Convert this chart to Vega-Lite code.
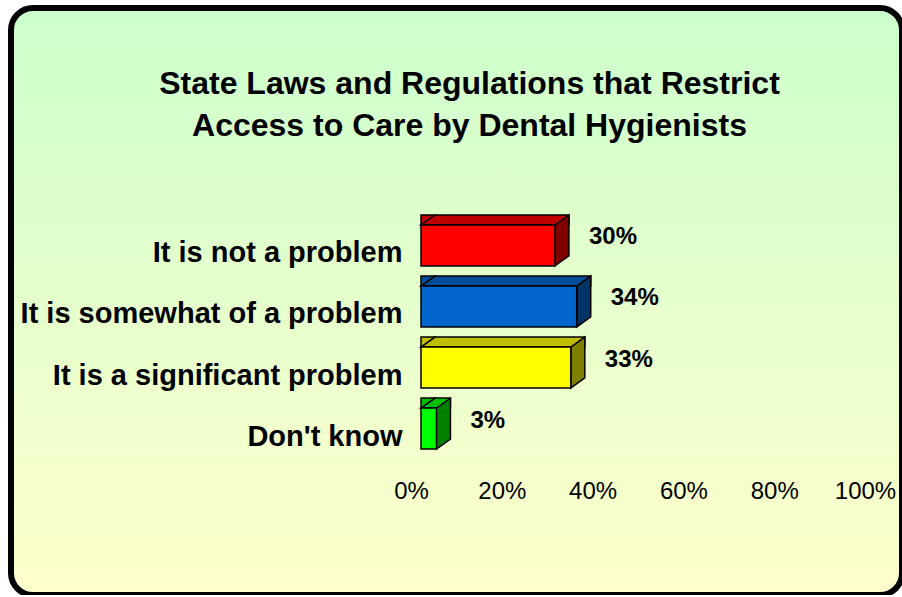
{
  "$schema": "https://vega.github.io/schema/vega-lite/v6.json",
  "width": 891,
  "height": 587,
  "autosize": {"type": "none"},
  "padding": {"left": 11, "top": 8, "right": 0, "bottom": 0},
  "background": "white",
  "config": {
    "font": "Liberation Sans",
    "view": {
      "fill": {"gradient": "linear", "x1": 0, "y1": 0, "x2": 0, "y2": 1, "stops": [{"offset": 0, "color": "#CCFFCC"}, {"offset": 1, "color": "#FFFFCC"}]},
      "stroke": "black",
      "strokeWidth": 6,
      "cornerRadius": 22
    }
  },
  "title": {
    "text": ["State Laws and Regulations that Restrict", "Access to Care by Dental Hygienists"],
    "fontSize": 32,
    "fontWeight": "bold",
    "font": "Liberation Sans",
    "color": "black",
    "lineHeight": 42,
    "anchor": "middle",
    "frame": "group",
    "offset": -135,
    "dx": 13
  },
  "data": {
    "values": [
      {"cat": "It is not a problem", "pct": 29.5, "label": "30%"},
      {"cat": "It is somewhat of a problem", "pct": 34.3, "label": "34%"},
      {"cat": "It is a significant problem", "pct": 33.0, "label": "33%"},
      {"cat": "Don't know", "pct": 3.4, "label": "3%"}
    ]
  },
  "encoding": {
    "y": {
      "field": "cat",
      "type": "nominal",
      "sort": null,
      "scale": {"range": [217, 441], "paddingInner": 0.33, "paddingOuter": 0},
      "axis": {
        "title": null,
        "domain": false,
        "ticks": false,
        "grid": false,
        "offset": -395,
        "labelPadding": 4,
        "labelOffset": 8,
        "labelFont": "Liberation Sans",
        "labelFontSize": 29,
        "labelFontWeight": "bold",
        "labelColor": "black",
        "labelLimit": 600
      }
    }
  },
  "layer": [
    {
      "mark": {"type": "bar", "height": 10, "xOffset": 14, "yOffset": -25.5, "stroke": "black", "strokeWidth": 1.5},
      "encoding": {
        "x": {
          "field": "pct",
          "type": "quantitative",
          "scale": {"domain": [0, 100], "range": [410, 864], "nice": false},
          "axis": {
            "title": null,
            "values": [0, 20, 40, 60, 80, 100],
            "labelExpr": "datum.value + '%'",
            "domain": false,
            "ticks": false,
            "grid": false,
            "offset": -121,
            "labelPadding": 5,
            "labelOffset": -10,
            "labelFlush": false,
            "labelOverlap": false,
            "labelFont": "Liberation Sans",
            "labelFontSize": 24,
            "labelColor": "black"
          }
        },
        "x2": {"datum": 0},
        "color": {
          "field": "cat",
          "type": "nominal",
          "legend": null,
          "scale": {"domain": ["It is not a problem", "It is somewhat of a problem", "It is a significant problem", "Don't know"], "range": ["#BF0000", "#004D99", "#BFBF00", "#00BF00"]}
        }
      }
    },
    {
      "mark": {"type": "point", "filled": true, "opacity": 1, "size": 400, "shape": "M 1.55 0 L 0 0 L 1.4 -1 L 1.55 -1", "yOffset": -20.45, "stroke": "black", "strokeWidth": 1.5},
      "encoding": {
        "x": {"datum": 0, "type": "quantitative"},
        "color": {
          "field": "cat",
          "type": "nominal",
          "legend": null,
          "scale": {"domain": ["It is not a problem", "It is somewhat of a problem", "It is a significant problem", "Don't know"], "range": ["#BF0000", "#004D99", "#BFBF00", "#00BF00"]}
        }
      }
    },
    {
      "mark": {"type": "point", "filled": true, "opacity": 1, "size": 400, "shape": "M 0 0 L 1.4 -1 L 1.4 3.09 L 0 4.09 Z", "yOffset": -20.45, "stroke": "black", "strokeWidth": 1.5},
      "encoding": {
        "x": {"field": "pct", "type": "quantitative"},
        "color": {
          "field": "cat",
          "type": "nominal",
          "legend": null,
          "scale": {"domain": ["It is not a problem", "It is somewhat of a problem", "It is a significant problem", "Don't know"], "range": ["#800000", "#003366", "#808000", "#008000"]}
        }
      }
    },
    {
      "mark": {"type": "bar", "stroke": "black", "strokeWidth": 1.5},
      "encoding": {
        "x": {"field": "pct", "type": "quantitative"},
        "x2": {"datum": 0},
        "color": {
          "field": "cat",
          "type": "nominal",
          "legend": null,
          "scale": {"domain": ["It is not a problem", "It is somewhat of a problem", "It is a significant problem", "Don't know"], "range": ["#FF0000", "#0066CC", "#FFFF00", "#00FF00"]}
        }
      }
    },
    {
      "mark": {"type": "text", "align": "left", "baseline": "middle", "dx": 34, "dy": -8, "fontSize": 24, "fontWeight": "bold", "font": "Liberation Sans", "color": "black"},
      "encoding": {
        "x": {"field": "pct", "type": "quantitative"},
        "text": {"field": "label"}
      }
    }
  ],
  "resolve": {"scale": {"color": "independent"}}
}
